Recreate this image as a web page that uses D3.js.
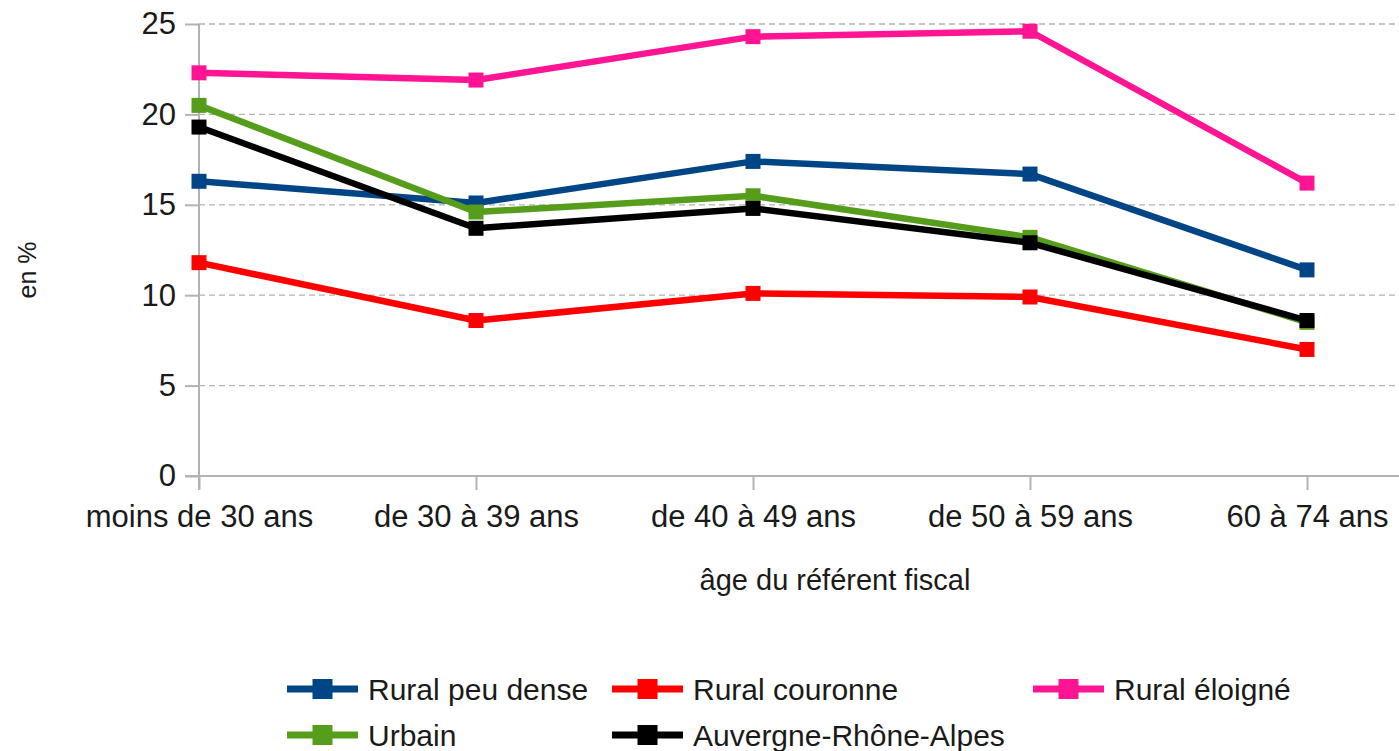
<!DOCTYPE html>
<html>
<head>
<meta charset="utf-8">
<script src="https://cdn.jsdelivr.net/npm/d3@7"></script>
<style>
  body { margin: 0; background: #fff; }
  text { font-family: "Liberation Sans", Arial, sans-serif; fill: #1a1a1a; }
</style>
</head>
<body>
<svg id="chart" width="1399" height="751"></svg>
<script>
// categories and series
const categories = ["moins de 30 ans", "de 30 à 39 ans", "de 40 à 49 ans", "de 50 à 59 ans", "60 à 74 ans"];
const ruralPeuDense = [16.3, 15.1, 17.4, 16.7, 11.4];
const ruralCouronne = [11.8, 8.6, 10.1, 9.9, 7.0];
const ruralEloigne = [22.3, 21.9, 24.3, 24.6, 16.2];
const urbain = [20.5, 14.6, 15.5, 13.2, 8.5];
const auvergneRA = [19.3, 13.7, 14.8, 12.9, 8.6];
const yTicks = [0, 5, 10, 15, 20, 25];

const series = [
    { name: "Rural peu dense", values: ruralPeuDense, color: "#004586" },
    { name: "Rural couronne", values: ruralCouronne, color: "#ff0000" },
    { name: "Rural éloigné", values: ruralEloigne, color: "#ff1493" },
    { name: "Urbain", values: urbain, color: "#579d1c" },
    { name: "Auvergne-Rhône-Alpes", values: auvergneRA, color: "#000000" }
];

const svg = d3.select("#chart");
const plotLeft = 199, plotRight = 1399, plotTop = 24, plotBottom = 476;
const step = 277;

const x = d3.scalePoint().domain(categories).range([plotLeft, plotLeft + step * 4]);
const y = d3.scaleLinear().domain([0, 25]).range([plotBottom, plotTop]);

// gridlines
svg.append("g").selectAll("line")
    .data(yTicks.filter(d => d > 0)).join("line")
    .attr("x1", plotLeft).attr("x2", plotRight)
    .attr("y1", d => y(d)).attr("y2", d => y(d))
    .attr("stroke", "#b3b3b3").attr("stroke-width", 1.3)
    .attr("stroke-dasharray", "6,4");

// y axis
const yAxis = svg.append("g").attr("transform", `translate(${plotLeft},0)`)
    .call(d3.axisLeft(y).tickValues(yTicks).tickSize(14).tickPadding(9));
yAxis.select(".domain").attr("stroke", "#b3b3b3").attr("stroke-width", 2).attr("d", `M0,${plotTop}V${plotBottom + 14}`);
yAxis.selectAll(".tick line").attr("stroke", "#b3b3b3").attr("stroke-width", 2);
yAxis.selectAll("text").style("font-size", "31px").attr("fill", "#1a1a1a");

// x axis
const xAxis = svg.append("g").attr("transform", `translate(0,${plotBottom})`)
    .call(d3.axisBottom(x).tickSize(14).tickPadding(15));
xAxis.select(".domain").attr("stroke", "#b3b3b3").attr("stroke-width", 2).attr("d", `M${plotLeft - 14},0H${plotRight}`);
xAxis.selectAll(".tick line").attr("stroke", "#b3b3b3").attr("stroke-width", 2);
xAxis.selectAll("text").style("font-size", "31px").attr("fill", "#1a1a1a");

// axis titles
svg.append("text").attr("x", 835).attr("y", 590).attr("text-anchor", "middle")
    .style("font-size", "29px").text("âge du référent fiscal");
svg.append("text").attr("transform", "translate(36,270) rotate(-90)").attr("text-anchor", "middle")
    .style("font-size", "25px").text("en %");

// lines
const line = d3.line().x((d, i) => x(categories[i])).y(d => y(d));
const markSize = 15;

series.forEach(s => {
    const g = svg.append("g");
    g.append("path").datum(s.values)
        .attr("d", line).attr("fill", "none")
        .attr("stroke", s.color).attr("stroke-width", 6.5).attr("stroke-linejoin", "round");
    g.selectAll("rect").data(s.values).join("rect")
        .attr("x", (d, i) => x(categories[i]) - markSize / 2)
        .attr("y", d => y(d) - markSize / 2)
        .attr("width", markSize).attr("height", markSize)
        .attr("fill", s.color);
});

// legend
const legendPos = [[287, 689], [612, 689], [1033, 689], [287, 735], [612, 735]];
const legendMark = 20;
series.forEach((s, i) => {
    const [lx, ly] = legendPos[i];
    const g = svg.append("g").attr("transform", `translate(${lx},${ly})`);
    g.append("line").attr("x1", 0).attr("x2", 71).attr("y1", 0).attr("y2", 0)
        .attr("stroke", s.color).attr("stroke-width", 7);
    g.append("rect").attr("x", 35.5 - legendMark / 2).attr("y", -legendMark / 2)
        .attr("width", legendMark).attr("height", legendMark).attr("fill", s.color);
    g.append("text").attr("x", 81).attr("y", 0).attr("dy", "0.35em")
        .style("font-size", "30px").text(s.name);
});
</script>
</body>
</html>
